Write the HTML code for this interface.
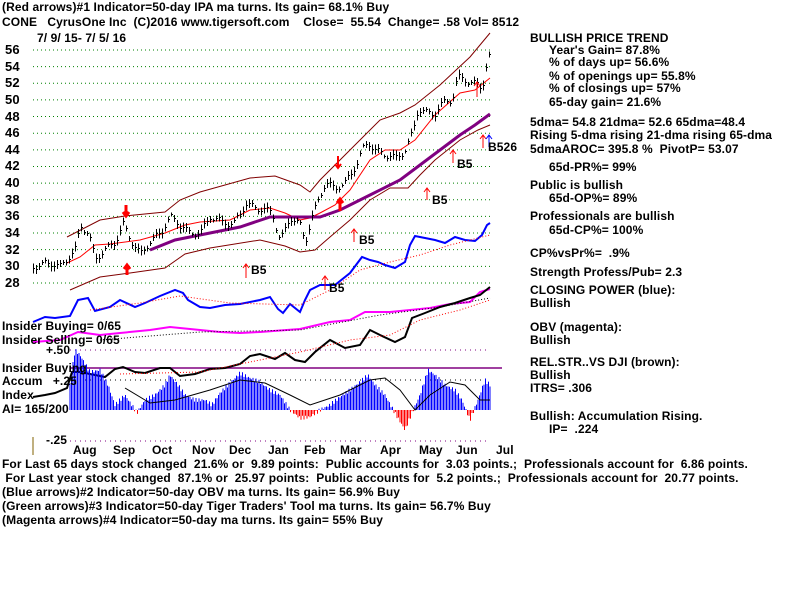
<!DOCTYPE html>
<html><head><meta charset="utf-8"><style>
body{margin:0;background:#fff;width:800px;height:600px;overflow:hidden;position:relative;font-family:"Liberation Sans",sans-serif;font-weight:bold;font-size:12px;color:#000}
.t{position:absolute;white-space:pre;line-height:13px;letter-spacing:0.1px}
svg{position:absolute;left:0;top:0}
</style></head><body>
<svg id="s" width="800" height="600" xmlns="http://www.w3.org/2000/svg">
<g stroke="#008000" stroke-dasharray="1,3" stroke-width="1" id="grid"></g>
<g id="dyn"></g>
</svg>
<div class="t" style="left:2px;top:1px">(Red arrows)#1 Indicator=50-day IPA ma turns. Its gain= 68.1% Buy</div>
<div class="t" style="left:2px;top:16px">CONE   CyrusOne Inc  (C)2016 www.tigersoft.com    Close=  55.54  Change= .58 Vol= 8512</div>
<div class="t" style="left:37px;top:32px">7/ 9/ 15- 7/ 5/ 16</div>
<div id="yl"></div>
<div class="t" style="left:2px;top:320px">Insider Buying= 0/65</div>
<div class="t" style="left:2px;top:334px">Insider Selling= 0/65</div>
<div class="t" style="left:46px;top:344px">+.50</div>
<div class="t" style="left:2px;top:362px">Insider Buying</div>
<div class="t" style="left:2px;top:375px">Accum   +.25</div>
<div class="t" style="left:2px;top:389px">Index</div>
<div class="t" style="left:2px;top:403px">AI= 165/200</div>
<div class="t" style="left:46px;top:434px">-.25</div>
<div class="t" style="left:73px;top:444px">Aug</div><div class="t" style="left:113px;top:444px">Sep</div><div class="t" style="left:152px;top:444px">Oct</div><div class="t" style="left:192px;top:444px">Nov</div><div class="t" style="left:229px;top:444px">Dec</div><div class="t" style="left:268px;top:444px">Jan</div><div class="t" style="left:304px;top:444px">Feb</div><div class="t" style="left:340px;top:444px">Mar</div><div class="t" style="left:380px;top:444px">Apr</div><div class="t" style="left:419px;top:444px">May</div><div class="t" style="left:456px;top:444px">Jun</div><div class="t" style="left:496px;top:444px">Jul</div>
<div class="t" style="left:2px;top:458px">For Last 65 days stock changed  21.6% or  9.89 points:  Public accounts for  3.03 points.;  Professionals account for  6.86 points.</div>
<div class="t" style="left:2px;top:472px"> For Last year stock changed  87.1% or  25.97 points:  Public accounts for  5.2 points.;  Professionals account for  20.77 points.</div>
<div class="t" style="left:2px;top:486px">(Blue arrows)#2 Indicator=50-day OBV ma turns. Its gain= 56.9% Buy</div>
<div class="t" style="left:2px;top:500px">(Green arrows)#3 Indicator=50-day Tiger Traders' Tool ma turns. Its gain= 56.7% Buy</div>
<div class="t" style="left:2px;top:514px">(Magenta arrows)#4 Indicator=50-day ma turns. Its gain= 55% Buy</div>
<div class="t" style="left:530px;top:32px">BULLISH PRICE TREND</div>
<div class="t" style="left:549px;top:44px">Year's Gain= 87.8%</div>
<div class="t" style="left:549px;top:56px">% of days up= 56.6%</div>
<div class="t" style="left:549px;top:70px">% of openings up= 55.8%</div>
<div class="t" style="left:549px;top:82px">% of closings up= 57%</div>
<div class="t" style="left:549px;top:96px">65-day gain= 21.6%</div>
<div class="t" style="left:530px;top:116px">5dma= 54.8 21dma= 52.6 65dma=48.4</div>
<div class="t" style="left:530px;top:129px">Rising 5-dma rising 21-dma rising 65-dma</div>
<div class="t" style="left:530px;top:143px">5dmaAROC= 395.8 %  PivotP= 53.07</div>
<div class="t" style="left:549px;top:161px">65d-PR%= 99%</div>
<div class="t" style="left:530px;top:179px">Public is bullish</div>
<div class="t" style="left:549px;top:192px">65d-OP%= 89%</div>
<div class="t" style="left:530px;top:210px">Professionals are bullish</div>
<div class="t" style="left:549px;top:224px">65d-CP%= 100%</div>
<div class="t" style="left:530px;top:247px">CP%vsPr%=  .9%</div>
<div class="t" style="left:530px;top:266px">Strength Profess/Pub= 2.3</div>
<div class="t" style="left:530px;top:284px">CLOSING POWER (blue):</div>
<div class="t" style="left:530px;top:297px">Bullish</div>
<div class="t" style="left:530px;top:321px">OBV (magenta):</div>
<div class="t" style="left:530px;top:334px">Bullish</div>
<div class="t" style="left:530px;top:356px">REL.STR..VS DJI (brown):</div>
<div class="t" style="left:530px;top:369px">Bullish</div>
<div class="t" style="left:530px;top:382px">ITRS= .306</div>
<div class="t" style="left:530px;top:410px">Bullish: Accumulation Rising.</div>
<div class="t" style="left:549px;top:423px">IP=  .224</div>
<div class="t" style="left:251px;top:264px">B5</div><div class="t" style="left:359px;top:234px">B5</div><div class="t" style="left:432px;top:194px">B5</div><div class="t" style="left:457px;top:158px">B5</div><div class="t" style="left:329px;top:282px">B5</div><div class="t" style="left:488px;top:141px">B526</div>
<script>
const NS="http://www.w3.org/2000/svg";
const s=document.getElementById('dyn'),g=document.getElementById('grid');
function el(t,a,p){const e=document.createElementNS(NS,t);for(const k in a)e.setAttribute(k,a[k]);(p||s).appendChild(e);return e;}
const Y=p=>50+(56-p)*8.32;
let yl='';
for(let p=28;p<=56;p+=2){const y=Y(p);el('line',{x1:33,x2:490,y1:y,y2:y},g);yl+=`<div class="t" style="left:5px;top:${y-7}px;font-size:13px">${p}</div>`;}
document.getElementById('yl').innerHTML=yl;
function pl(pts,c,w,d){el('polyline',{points:pts.map(p=>p.join(',')).join(' '),fill:'none',stroke:c,'stroke-width':w,'stroke-dasharray':d||'none'});}
[[350,'#800080','1,4'],[380,'#000','1,4'],[441,'#800080','1,4']].forEach(a=>el('line',{x1:70,x2:490,y1:a[0],y2:a[0],stroke:a[1],'stroke-dasharray':a[2]}));
el('line',{x1:70,x2:502,y1:368,y2:368,stroke:'#800080','stroke-width':1.5});
el('line',{x1:33,x2:33,y1:437,y2:455,stroke:'#806000'});
pl([[67,237],[100,220],[125,216],[165,212],[180,200],[200,192],[250,178],[275,176],[300,185],[310,192],[320,180],[340,160],[360,140],[380,120],[400,113],[415,105],[440,85],[470,57],[490,33]],'#800000',1);
pl([[70,290],[100,277],[130,273],[165,268],[185,254],[210,248],[260,240],[285,246],[300,252],[315,250],[330,237],[350,220],[370,200],[390,188],[408,188],[420,175],[435,160],[460,140],[478,130],[490,125]],'#800000',1);
pl([[67,263],[80,257],[95,245],[110,244],[140,240],[165,233],[185,225],[200,222],[230,220],[250,210],[270,208],[285,213],[300,220],[310,218],[320,213],[335,205],[350,190],[370,160],[385,150],[400,150],[415,140],[435,115],[460,93],[475,90],[490,78]],'#f00',1);
pl([[150,250],[175,240],[210,233],[240,227],[270,217],[300,217],[320,217],[340,210],[370,195],[400,180],[420,165],[440,150],[460,135],[475,125],[490,114]],'#800080',3);
const P=[[33,30],[50,30.5],[60,30],[75,32],[80,35],[88,34],[95,31],[105,32],[115,33],[123,35],[132,33],[140,31.5],[150,33],[160,34],[170,36],[180,35],[190,34],[200,34],[210,36],[220,35.5],[233,35],[245,37.5],[260,37],[272,36.5],[280,33],[290,36],[300,35],[305,33],[312,36],[318,38],[325,40],[335,39.5],[345,40],[355,42],[362,44],[368,45],[375,44],[385,43.5],[395,43],[405,44],[412,46],[418,49],[425,48.5],[435,48.5],[445,50],[452,50],[456,52],[460,53],[470,52],[478,52],[482,51.5],[486,54],[490,55.5]];
function interp(pts,x){for(let i=1;i<pts.length;i++)if(x<=pts[i][0]){const a=pts[i-1],b=pts[i];return a[1]+(b[1]-a[1])*(x-a[0])/(b[0]-a[0]||1);}return pts[pts.length-1][1];}
for(let x=33;x<=490;x+=3){const p=interp(P,x)+Math.sin(x*1.7)*0.4;const y=Math.round(Y(p))+0.5;const h=2+Math.abs(Math.sin(x*0.9))*3;el('line',{x1:x+0.5,x2:x+0.5,y1:y-h,y2:y+h,stroke:'#000','shape-rendering':'crispEdges'});el('line',{x1:x,x2:x+2,y1:y,y2:y,stroke:'#000','shape-rendering':'crispEdges'});}
const CP=[[33,322],[45,317],[55,318],[70,316],[78,300],[88,298],[95,311],[110,307],[120,300],[135,307],[145,303],[160,296],[175,290],[183,293],[188,300],[200,307],[210,308],[225,305],[240,304],[260,300],[270,297],[278,309],[283,313],[290,304],[300,312],[305,300],[310,290],[320,285],[335,285],[350,273],[362,257],[370,260],[378,262],[385,265],[395,268],[405,262],[410,245],[415,236],[425,238],[435,240],[445,243],[455,237],[465,240],[475,241],[482,235],[487,225],[490,223]];
pl(CP,'#00f',2);
pl([[90,310],[140,303],[180,296],[230,303],[300,305],[330,290],[360,270],[390,262],[420,255],[450,245],[490,235]],'#f00',1,'1,2');
const OBV=[[33,342],[60,340],[78,332],[100,335],[120,333],[150,330],[170,327],[190,329],[220,332],[240,333],[260,332],[300,329],[330,322],[350,320],[365,312],[390,312],[410,310],[430,308],[450,304],[470,302],[480,292],[490,289]];
pl(OBV,'#f0f',2);
pl([[100,340],[200,332],[300,330],[380,315],[440,307],[490,298]],'#000',1,'1,2');
const RS=[[33,397],[45,395],[55,393],[67,388],[72,372],[80,372],[95,375],[105,377],[115,369],[123,367],[135,372],[145,373],[160,368],[170,368],[180,376],[195,374],[210,369],[225,368],[240,364],[250,356],[260,354],[275,359],[285,353],[295,360],[305,362],[315,352],[330,340],[345,348],[360,345],[370,330],[380,335],[395,342],[405,337],[412,318],[425,313],[440,307],[455,303],[470,298],[480,295],[490,287]];
pl(RS,'#000',2);
pl([[120,374],[200,372],[250,362],[300,352],[350,340],[390,335],[420,320],[460,310],[490,300]],'#f00',1,'1,2');
const AC=[[70,385],[75,350],[80,355],[90,372],[100,370],[108,385],[115,405],[125,395],[137,413],[145,400],[155,395],[165,385],[170,375],[178,385],[185,395],[195,400],[205,400],[212,405],[220,393],[230,383],[240,373],[250,378],[260,382],[270,390],[280,395],[290,410],[300,418],[310,417],[320,410],[330,405],[340,397],[350,390],[360,382],[368,375],[375,385],[385,395],[395,413],[405,430],[412,413],[420,395],[428,370],[435,375],[445,385],[455,390],[462,400],[470,420],[478,400],[485,380],[490,385]];
for(let x=70;x<=490;x+=1.5){const y=interp(AC,x)+Math.sin(x*2.3)*2;el('line',{x1:x,x2:x,y1:410,y2:y,stroke:y<410?'#00f':'#f00'});}
pl([[125,388],[150,403],[175,400],[210,390],[240,380],[265,383],[290,395],[310,405],[340,395],[370,380],[385,378],[400,390],[415,410],[430,395],[450,382],[465,385],[480,400],[490,400]],'#000',1);
function arr(x,y1,y2,c,w){el('line',{x1:x,x2:x,y1:y1,y2:y2,stroke:c,'stroke-width':w||1});const d=y2<y1?-1:1;el('polyline',{points:`${x-3},${y2-d*4} ${x},${y2} ${x+3},${y2-d*4}`,fill:'none',stroke:c,'stroke-width':w||1});}
arr(126,205,216,'#f00',3);arr(127,275,265,'#f00',3);arr(246,278,264,'#f00');arr(354,242,229,'#f00');arr(338,156,168,'#f00',2);arr(340,211,199,'#f00',3);arr(427,200,188,'#f00');arr(453,163,150,'#f00');arr(483,148,135,'#f00');arr(489,147,135,'#00f');arr(325,290,276,'#f00');arr(477,97,82,'#f00');
</script>
</body></html>
